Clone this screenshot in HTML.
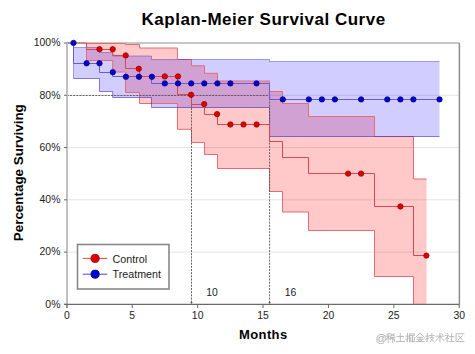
<!DOCTYPE html>
<html><head><meta charset="utf-8">
<style>
html,body{margin:0;padding:0;background:#fff;}
body{width:475px;height:354px;overflow:hidden;}
svg{display:block;}
text{font-family:"Liberation Sans",sans-serif;fill:#1a1a1a;}
.tick{font-size:10.4px;fill:#222;}
.title{font-size:17px;font-weight:bold;fill:#000;letter-spacing:0.5px;}
.axt{font-size:13px;font-weight:bold;fill:#000;}
.leg{font-size:10.7px;fill:#222;}
</style></head><body>
<svg width="475" height="354" viewBox="0 0 475 354">
<rect width="475" height="354" fill="#fff"/>
<text x="263.6" y="24.6" text-anchor="middle" class="title">Kaplan-Meier Survival Curve</text>
<line x1="67" x2="459.4" y1="252.12" y2="252.12" stroke="#e3e3e3" stroke-width="1"/>
<line x1="67" x2="459.4" y1="199.84" y2="199.84" stroke="#e3e3e3" stroke-width="1"/>
<line x1="67" x2="459.4" y1="147.56" y2="147.56" stroke="#e3e3e3" stroke-width="1"/>
<line x1="67" x2="459.4" y1="95.28" y2="95.28" stroke="#e3e3e3" stroke-width="1"/>
<line x1="67" x2="459.4" y1="43" y2="43" stroke="#b4b4b4" stroke-width="1.6"/>
<line x1="459.4" x2="459.4" y1="43" y2="304.4" stroke="#8c8c8c" stroke-width="1.5"/>
<path d="M86.50,43.50 L112.70,43.50 L112.70,43.50 L125.50,43.50 L125.50,44.50 L139.50,44.50 L139.50,48.00 L177.50,48.00 L177.50,59.50 L191.50,59.50 L191.50,65.80 L204.50,65.80 L204.50,73.30 L217.50,73.30 L217.50,81.00 L269.50,81.00 L269.50,91.50 L282.50,91.50 L282.50,103.50 L308.50,103.50 L308.50,116.50 L374.50,116.50 L374.50,136.50 L413.50,136.50 L413.50,179.00 L426.60,179.00 L426.60,304.50 L413.50,304.50 L413.50,276.50 L374.50,276.50 L374.50,230.50 L308.50,230.50 L308.50,212.00 L282.50,212.00 L282.50,191.50 L269.50,191.50 L269.50,168.50 L217.50,168.50 L217.50,154.50 L204.50,154.50 L204.50,142.50 L191.50,142.50 L191.50,129.30 L177.50,129.30 L177.50,103.50 L139.50,103.50 L139.50,92.50 L125.50,92.50 L125.50,72.00 L112.70,72.00 L112.70,60.50 L86.50,60.50 Z" fill="rgb(255,0,0)" fill-opacity="0.21" stroke="none"/>
<path d="M73.50,47.50 L99.50,47.50 L99.50,52.50 L112.70,52.50 L112.70,56.00 L151.50,56.00 L151.50,59.50 L269.50,59.50 L269.50,61.50 L439.50,61.50 L439.50,136.50 L269.50,136.50 L269.50,107.50 L151.50,107.50 L151.50,97.50 L112.70,97.50 L112.70,91.50 L99.50,91.50 L99.50,78.50 L73.50,78.50 Z" fill="rgb(20,0,255)" fill-opacity="0.195" stroke="none"/>
<path d="M86.50,60.50 L86.50,43.50 L112.70,43.50 L112.70,43.50 L125.50,43.50 L125.50,44.50 L139.50,44.50 L139.50,48.00 L177.50,48.00 L177.50,59.50 L191.50,59.50 L191.50,65.80 L204.50,65.80 L204.50,73.30 L217.50,73.30 L217.50,81.00 L269.50,81.00 L269.50,91.50 L282.50,91.50 L282.50,103.50 L308.50,103.50 L308.50,116.50 L374.50,116.50 L374.50,136.50 L413.50,136.50 L413.50,179.00 L426.60,179.00" fill="none" stroke="rgb(228,108,114)" stroke-width="1"/>
<path d="M86.50,60.50 L112.70,60.50 L112.70,72.00 L125.50,72.00 L125.50,92.50 L139.50,92.50 L139.50,103.50 L177.50,103.50 L177.50,129.30 L191.50,129.30 L191.50,142.50 L204.50,142.50 L204.50,154.50 L217.50,154.50 L217.50,168.50 L269.50,168.50 L269.50,191.50 L282.50,191.50 L282.50,212.00 L308.50,212.00 L308.50,230.50 L374.50,230.50 L374.50,276.50 L413.50,276.50 L413.50,304.50 L426.60,304.50" fill="none" stroke="rgb(228,108,114)" stroke-width="1"/>
<path d="M73.50,78.50 L73.50,47.50 L99.50,47.50 L99.50,52.50 L112.70,52.50 L112.70,56.00 L151.50,56.00 L151.50,59.50 L269.50,59.50 L269.50,61.50 L439.50,61.50" fill="none" stroke="rgb(60,40,200)" stroke-opacity="0.42" stroke-width="1"/>
<path d="M73.50,78.50 L99.50,78.50 L99.50,91.50 L112.70,91.50 L112.70,97.50 L151.50,97.50 L151.50,107.50 L269.50,107.50 L269.50,136.50 L439.50,136.50" fill="none" stroke="rgb(70,40,190)" stroke-opacity="0.6" stroke-width="1"/>
<line x1="67" x2="269.5" y1="95.5" y2="95.5" stroke="#555" stroke-width="0.9" stroke-dasharray="2,1.16" stroke-dashoffset="0.26"/>
<line x1="191.5" x2="191.5" y1="95.5" y2="304" stroke="#555" stroke-width="0.9" stroke-dasharray="2,1.16" stroke-dashoffset="0.27"/>
<line x1="269.6" x2="269.6" y1="95.5" y2="304" stroke="#555" stroke-width="0.9" stroke-dasharray="2,1.16" stroke-dashoffset="0.27"/>
<path d="M190.3,301.9 L192.7,301.9 L191.5,304 Z M268.4,301.9 L270.8,301.9 L269.6,304 Z" fill="#555"/>
<path d="M67.00,43.00 L73.50,43.00 L73.50,63.50 L99.50,63.50 L99.50,72.50 L112.70,72.50 L112.70,76.50 L151.50,76.50 L151.50,83.50 L269.50,83.50 L269.50,99.50 L439.50,99.50" fill="none" stroke="rgb(105,92,212)" stroke-width="1"/>
<path d="M73.50,43.00 L86.50,43.00 L86.50,49.50 L112.70,49.50 L112.70,55.50 L125.50,55.50 L125.50,68.50 L139.50,68.50 L139.50,76.50 L177.50,76.50 L177.50,94.50 L191.50,94.50 L191.50,104.50 L204.50,104.50 L204.50,114.50 L217.50,114.50 L217.50,124.50 L269.50,124.50 L269.50,141.50 L282.50,141.50 L282.50,157.50 L308.50,157.50 L308.50,173.50 L374.50,173.50 L374.50,206.50 L413.50,206.50 L413.50,255.50 L426.60,255.50" fill="none" stroke="rgb(218,72,78)" stroke-width="1"/>
<circle cx="99.50" cy="49.20" r="2.70" fill="#e00000" stroke="#8a0000" stroke-width="0.7"/>
<circle cx="112.70" cy="49.20" r="2.70" fill="#e00000" stroke="#8a0000" stroke-width="0.7"/>
<circle cx="125.70" cy="55.40" r="2.70" fill="#e00000" stroke="#8a0000" stroke-width="0.7"/>
<circle cx="138.80" cy="68.80" r="2.70" fill="#e00000" stroke="#8a0000" stroke-width="0.7"/>
<circle cx="164.80" cy="76.40" r="2.70" fill="#e00000" stroke="#8a0000" stroke-width="0.7"/>
<circle cx="178.00" cy="76.40" r="2.70" fill="#e00000" stroke="#8a0000" stroke-width="0.7"/>
<circle cx="191.10" cy="94.80" r="2.70" fill="#e00000" stroke="#8a0000" stroke-width="0.7"/>
<circle cx="204.20" cy="104.10" r="2.70" fill="#e00000" stroke="#8a0000" stroke-width="0.7"/>
<circle cx="217.10" cy="114.10" r="2.70" fill="#e00000" stroke="#8a0000" stroke-width="0.7"/>
<circle cx="230.40" cy="124.50" r="2.70" fill="#e00000" stroke="#8a0000" stroke-width="0.7"/>
<circle cx="243.50" cy="124.50" r="2.70" fill="#e00000" stroke="#8a0000" stroke-width="0.7"/>
<circle cx="256.60" cy="124.50" r="2.70" fill="#e00000" stroke="#8a0000" stroke-width="0.7"/>
<circle cx="348.10" cy="173.60" r="2.70" fill="#e00000" stroke="#8a0000" stroke-width="0.7"/>
<circle cx="361.10" cy="173.60" r="2.70" fill="#e00000" stroke="#8a0000" stroke-width="0.7"/>
<circle cx="400.40" cy="206.50" r="2.70" fill="#e00000" stroke="#8a0000" stroke-width="0.7"/>
<circle cx="426.40" cy="255.60" r="2.70" fill="#e00000" stroke="#8a0000" stroke-width="0.7"/>
<circle cx="73.50" cy="42.90" r="2.70" fill="#0000d8" stroke="#00006a" stroke-width="0.7"/>
<circle cx="86.60" cy="63.30" r="2.70" fill="#0000d8" stroke="#00006a" stroke-width="0.7"/>
<circle cx="99.50" cy="63.30" r="2.70" fill="#0000d8" stroke="#00006a" stroke-width="0.7"/>
<circle cx="112.80" cy="72.20" r="2.70" fill="#0000d8" stroke="#00006a" stroke-width="0.7"/>
<circle cx="125.90" cy="76.80" r="2.70" fill="#0000d8" stroke="#00006a" stroke-width="0.7"/>
<circle cx="139.00" cy="76.80" r="2.70" fill="#0000d8" stroke="#00006a" stroke-width="0.7"/>
<circle cx="151.90" cy="76.80" r="2.70" fill="#0000d8" stroke="#00006a" stroke-width="0.7"/>
<circle cx="164.80" cy="83.40" r="2.70" fill="#0000d8" stroke="#00006a" stroke-width="0.7"/>
<circle cx="178.00" cy="83.40" r="2.70" fill="#0000d8" stroke="#00006a" stroke-width="0.7"/>
<circle cx="191.20" cy="83.40" r="2.70" fill="#0000d8" stroke="#00006a" stroke-width="0.7"/>
<circle cx="204.30" cy="83.40" r="2.70" fill="#0000d8" stroke="#00006a" stroke-width="0.7"/>
<circle cx="217.40" cy="83.40" r="2.70" fill="#0000d8" stroke="#00006a" stroke-width="0.7"/>
<circle cx="230.40" cy="83.40" r="2.70" fill="#0000d8" stroke="#00006a" stroke-width="0.7"/>
<circle cx="256.50" cy="83.40" r="2.70" fill="#0000d8" stroke="#00006a" stroke-width="0.7"/>
<circle cx="282.80" cy="99.40" r="2.70" fill="#0000d8" stroke="#00006a" stroke-width="0.7"/>
<circle cx="308.80" cy="99.40" r="2.70" fill="#0000d8" stroke="#00006a" stroke-width="0.7"/>
<circle cx="321.90" cy="99.40" r="2.70" fill="#0000d8" stroke="#00006a" stroke-width="0.7"/>
<circle cx="334.90" cy="99.40" r="2.70" fill="#0000d8" stroke="#00006a" stroke-width="0.7"/>
<circle cx="361.10" cy="99.40" r="2.70" fill="#0000d8" stroke="#00006a" stroke-width="0.7"/>
<circle cx="387.30" cy="99.40" r="2.70" fill="#0000d8" stroke="#00006a" stroke-width="0.7"/>
<circle cx="400.40" cy="99.40" r="2.70" fill="#0000d8" stroke="#00006a" stroke-width="0.7"/>
<circle cx="413.40" cy="99.40" r="2.70" fill="#0000d8" stroke="#00006a" stroke-width="0.7"/>
<circle cx="439.50" cy="99.40" r="2.70" fill="#0000d8" stroke="#00006a" stroke-width="0.7"/>
<line x1="67" x2="67" y1="43" y2="308" stroke="#c0c0c0" stroke-width="2"/>
<line x1="64" x2="67" y1="304.40" y2="304.40" stroke="#6a6a6a" stroke-width="1"/>
<line x1="64" x2="67" y1="252.12" y2="252.12" stroke="#6a6a6a" stroke-width="1"/>
<line x1="64" x2="67" y1="199.84" y2="199.84" stroke="#6a6a6a" stroke-width="1"/>
<line x1="64" x2="67" y1="147.56" y2="147.56" stroke="#6a6a6a" stroke-width="1"/>
<line x1="64" x2="67" y1="95.28" y2="95.28" stroke="#6a6a6a" stroke-width="1"/>
<line x1="64" x2="67" y1="43.00" y2="43.00" stroke="#6a6a6a" stroke-width="1"/>
<line x1="64" x2="459.4" y1="304.4" y2="304.4" stroke="#6a6a6a" stroke-width="1.2"/>
<line x1="66.85" x2="66.85" y1="304.4" y2="308" stroke="#6a6a6a" stroke-width="1"/>
<line x1="132.25" x2="132.25" y1="304.4" y2="308" stroke="#6a6a6a" stroke-width="1"/>
<line x1="197.65" x2="197.65" y1="304.4" y2="308" stroke="#6a6a6a" stroke-width="1"/>
<line x1="263.05" x2="263.05" y1="304.4" y2="308" stroke="#6a6a6a" stroke-width="1"/>
<line x1="328.45" x2="328.45" y1="304.4" y2="308" stroke="#6a6a6a" stroke-width="1"/>
<line x1="393.85" x2="393.85" y1="304.4" y2="308" stroke="#6a6a6a" stroke-width="1"/>
<line x1="459.25" x2="459.25" y1="304.4" y2="308" stroke="#6a6a6a" stroke-width="1"/>
<text x="60.4" y="307.70" text-anchor="end" class="tick">0%</text>
<text x="60.4" y="255.42" text-anchor="end" class="tick">20%</text>
<text x="60.4" y="203.14" text-anchor="end" class="tick">40%</text>
<text x="60.4" y="150.86" text-anchor="end" class="tick">60%</text>
<text x="60.4" y="98.58" text-anchor="end" class="tick">80%</text>
<text x="60.4" y="46.30" text-anchor="end" class="tick">100%</text>
<text x="66.85" y="318.6" text-anchor="middle" class="tick">0</text>
<text x="132.25" y="318.6" text-anchor="middle" class="tick">5</text>
<text x="197.65" y="318.6" text-anchor="middle" class="tick">10</text>
<text x="263.05" y="318.6" text-anchor="middle" class="tick">15</text>
<text x="328.45" y="318.6" text-anchor="middle" class="tick">20</text>
<text x="393.85" y="318.6" text-anchor="middle" class="tick">25</text>
<text x="459.25" y="318.6" text-anchor="middle" class="tick">30</text>
<text x="212.01" y="295.8" text-anchor="middle" class="tick">10</text>
<text x="290.49" y="295.8" text-anchor="middle" class="tick">16</text>
<text x="263.3" y="338.7" text-anchor="middle" class="axt" style="letter-spacing:0.4px">Months</text>
<text transform="translate(23.3,172.7) rotate(-90)" text-anchor="middle" class="axt" style="font-size:13.4px">Percentage Surviving</text>
<rect x="77.5" y="244.5" width="91.5" height="44.5" fill="#fff" stroke="#888" stroke-width="1.6"/>
<line x1="82.7" x2="107.2" y1="258.4" y2="258.4" stroke="rgb(225,70,70)" stroke-width="1"/>
<circle cx="95.1" cy="258.4" r="4.1" fill="#e00000" stroke="#8a0000" stroke-width="0.8"/>
<text x="112.6" y="262.5" class="leg">Control</text>
<line x1="82.7" x2="107.2" y1="274.2" y2="274.2" stroke="rgb(70,70,225)" stroke-width="1"/>
<circle cx="95.1" cy="274.2" r="4.1" fill="#0000d8" stroke="#00006a" stroke-width="0.8"/>
<text x="112.6" y="278.3" class="leg">Treatment</text>
<text x="375.5" y="341.8" style="font-size:11px;fill:#aaa">@</text>
<g fill="none" stroke="#b3b3b3" stroke-width="0.95" stroke-linecap="square">
<path transform="translate(385.80,332.8) scale(0.92,0.95)" d="M1.5,1.5 L4,1 M0.5,3.5 L4.5,3.5 M2.5,1.5 L2.5,10 M2.5,4 L0.3,7.5 M2.5,4.5 L4.3,6.5 M5,1 L9.5,3.5 M9.5,1 L5,3.5 M5,4.8 L9.8,4.8 M6,4.8 L5,7 M5.8,6.3 L9.3,6.3 L9.3,9 M7.5,5.5 L7.5,10"/>
<path transform="translate(395.70,332.8) scale(0.92,0.95)" d="M1.5,3.8 L8.5,3.8 M5,0.8 L5,9.2 M0.5,9.2 L9.5,9.2"/>
<path transform="translate(405.60,332.8) scale(0.92,0.95)" d="M0.5,3.5 L3.5,3.5 M2,0.8 L2,9.5 L1,9 M0.5,7 L3.5,5.5 M4.5,1.2 L9.5,1.2 L9.5,3 L4.5,3 M4.5,1.2 L4.2,9.5 M5.5,5 L5.5,9.3 L9.5,9.3 L9.5,5 M7.5,4 L7.5,9.3"/>
<path transform="translate(415.50,332.8) scale(0.92,0.95)" d="M5,0.5 L0.5,4.5 M5,0.5 L9.5,4.5 M2.5,4.8 L7.5,4.8 M1.5,6.8 L8.5,6.8 M5,4.8 L5,9.2 M0.8,9.3 L9.2,9.3 M3,7.6 L3.8,8.8 M7,7.6 L6.2,8.8"/>
<path transform="translate(425.40,332.8) scale(0.92,0.95)" d="M0.5,3.5 L3.5,3.5 M2,0.8 L2,9.5 L1,9 M0.5,7 L3.5,5.5 M4.5,3 L9.5,3 M7,0.8 L7,5 M5,5.2 L9,5.2 L5,9.5 M6,6.5 L9.5,9.5"/>
<path transform="translate(435.30,332.8) scale(0.92,0.95)" d="M0.8,3.5 L9.2,3.5 M5,0.8 L5,9.8 M4.5,4 L0.5,8.5 M5.5,4 L9.5,8.5 M7,1 L8,2"/>
<path transform="translate(445.20,332.8) scale(0.92,0.95)" d="M2,0.5 L2.8,1.5 M0.5,2.8 L3.5,2.8 L0.5,6.5 M2.2,4.5 L2.2,9.8 M2.5,5 L3.8,6.2 M4.5,4 L9.5,4 M7,1 L7,9.2 M4.3,9.2 L9.7,9.2"/>
<path transform="translate(455.10,332.8) scale(0.92,0.95)" d="M9.5,1 L1,1 L1,9.2 L9.5,9.2 M3.5,3 L8,7.5 M8,3 L3.5,7.5"/>
</g>
</svg>
</body></html>
